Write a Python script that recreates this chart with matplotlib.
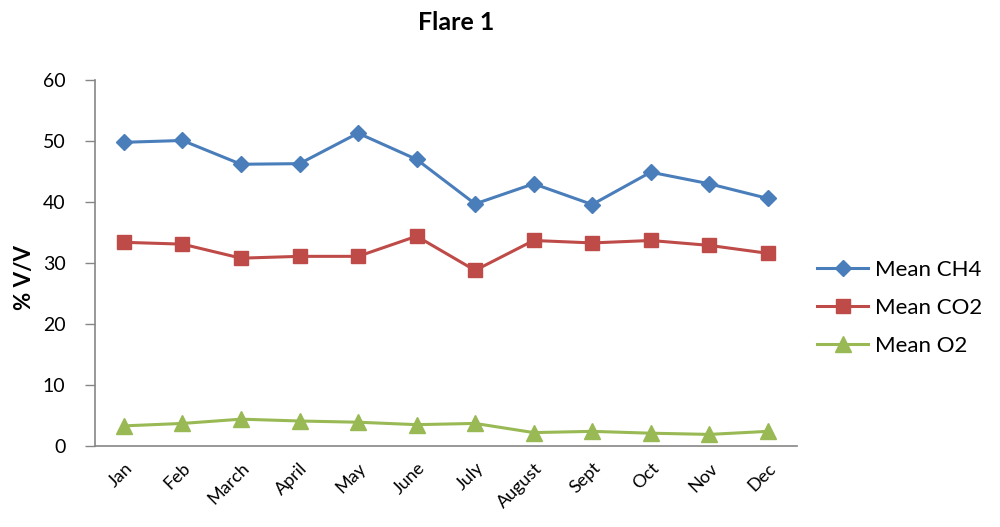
import matplotlib
matplotlib.use("Agg")
import matplotlib.pyplot as plt

months = ["Jan", "Feb", "March", "April", "May", "June", "July", "August", "Sept", "Oct", "Nov", "Dec"]
mean_ch4 = [49.8, 50.1, 46.2, 46.3, 51.3, 47.0, 39.7, 43.0, 39.6, 44.9, 43.0, 40.6]
mean_co2 = [33.4, 33.1, 30.8, 31.1, 31.1, 34.4, 28.8, 33.7, 33.3, 33.7, 32.9, 31.6]
mean_o2 = [3.3, 3.7, 4.4, 4.1, 3.9, 3.5, 3.7, 2.2, 2.4, 2.1, 1.9, 2.4]
yticks = [0, 10, 20, 30, 40, 50, 60]

plt.rcParams['font.family'] = ['Lato', 'DejaVu Sans']

fig = plt.figure(figsize=(10, 5.27), dpi=100)
ax = fig.add_axes([0.0947, 0.1537, 0.7023, 0.6943])

x = list(range(len(months)))
ax.plot(x, mean_ch4, color="#4A7EBB", lw=2.2, marker="D", ms=8, label="Mean CH4")
ax.plot(x, mean_co2, color="#BE4B48", lw=2.2, marker="s", ms=10, label="Mean CO2")
ax.plot(x, mean_o2, color="#98B954", lw=2.2, marker="^", ms=11, label="Mean O2")

ax.set_xlim(-0.5, len(months) - 0.5)
ax.set_ylim(0, 60)
ax.set_yticks(yticks)
ax.set_yticklabels([str(v) for v in yticks], fontsize=14)
ax.set_xticks(x)
ax.set_xticklabels(months, rotation=45, fontsize=13, ha="right", rotation_mode="anchor")
ax.tick_params(axis="x", length=0, pad=10)
ax.tick_params(axis="y", length=7, width=1, color="#868686", direction="out", pad=14)

for s in ["top", "right"]:
    ax.spines[s].set_visible(False)
for s in ["left", "bottom"]:
    ax.spines[s].set_color("#868686")
    ax.spines[s].set_linewidth(1.2)

ax.set_ylabel("% V/V", fontsize=16, fontweight="bold")
ax.yaxis.set_label_coords(-0.085, 0.46)
fig.text(0.456, 0.957, "Flare 1", ha="center", va="center", fontsize=18, fontweight="bold")

fig.legend(loc="center left", bbox_to_anchor=(0.797, 0.416), frameon=False,
           fontsize=16, handlelength=2.3, labelspacing=0.8, handletextpad=0.3)

fig.savefig("out.png", dpi=100)
